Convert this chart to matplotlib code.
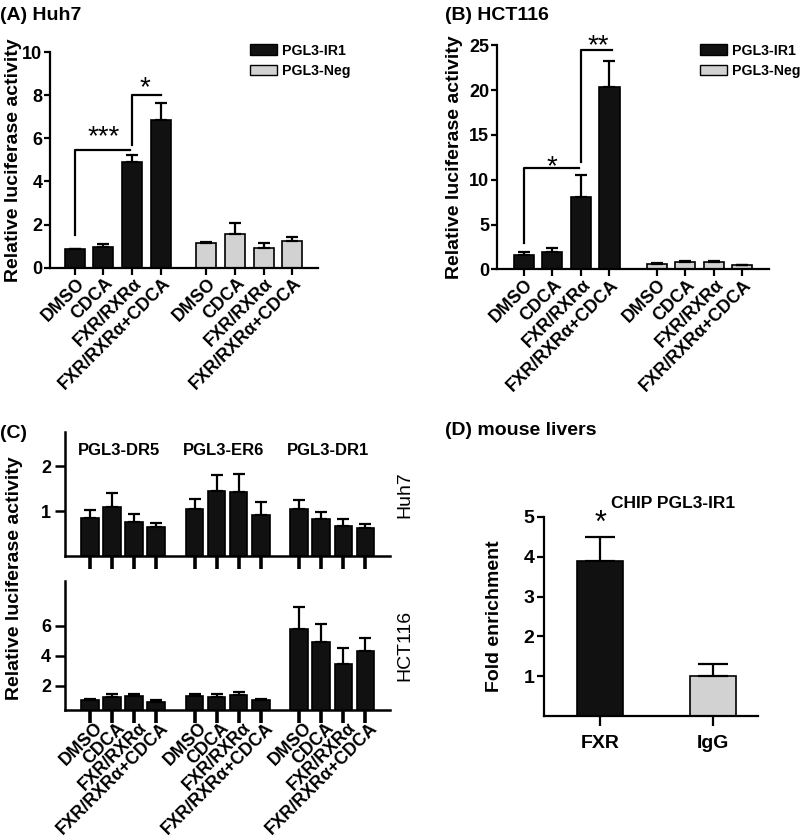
import matplotlib
matplotlib.use('Agg')
import matplotlib.pyplot as plt
import numpy as np
from matplotlib.patches import Patch
from matplotlib.transforms import ScaledTranslation

plt.rcParams['font.family'] = ['Liberation Sans', 'DejaVu Sans']
plt.rcParams['font.weight'] = 'bold'
plt.rcParams['axes.labelweight'] = 'bold'

treatments = ['DMSO', 'CDCA', 'FXR/RXRα', 'FXR/RXRα+CDCA']
series_names = ['PGL3-IR1', 'PGL3-Neg']

# (A) Huh7
huh7_ir1 = [0.85, 0.97, 4.9, 6.85]
huh7_ir1_err = [0.03, 0.13, 0.33, 0.8]
huh7_neg = [1.12, 1.58, 0.92, 1.22]
huh7_neg_err = [0.08, 0.5, 0.2, 0.2]

# (B) HCT116
hct_ir1 = [1.65, 1.9, 8.05, 20.3]
hct_ir1_err = [0.25, 0.5, 2.5, 2.9]
hct_neg = [0.6, 0.85, 0.8, 0.45]
hct_neg_err = [0.08, 0.1, 0.08, 0.05]

# (C) other response elements
c_groups = ['PGL3-DR5', 'PGL3-ER6', 'PGL3-DR1']
c_huh7 = [0.85, 1.1, 0.77, 0.65, 1.05, 1.45, 1.43, 0.91, 1.06, 0.83, 0.68, 0.63]
c_huh7_err = [0.18, 0.3, 0.17, 0.1, 0.23, 0.35, 0.4, 0.29, 0.18, 0.16, 0.14, 0.08]
c_hct = [1.05, 1.24, 1.29, 0.93, 1.29, 1.24, 1.4, 1.07, 5.8, 4.9, 3.45, 4.3]
c_hct_err = [0.05, 0.23, 0.18, 0.14, 0.18, 0.2, 0.15, 0.03, 1.4, 1.2, 1.05, 0.85]

# (D) mouse livers
d_labels = ['FXR', 'IgG']
d_vals = [3.9, 1.0]
d_err = [0.6, 0.3]

# significance brackets: (x_leg, y_leg_bottom, y_top, x_end), stars (x, y, text)
a_brackets = [(0, 1.5, 5.45, 1.93), (2, 5.7, 8.0, 3.0)]
a_stars = [(1.0, 5.45, '***'), (2.45, 7.7, '*')]
b_brackets = [(0, 2.9, 11.3, 1.95), (2, 12.0, 24.5, 3.1)]
b_stars = [(1.0, 9.9, '*'), (2.6, 23.4, '**')]

BLACK = '#111111'
GRAY = '#d2d2d2'


def style(ax, lw=1.6):
    for s in ['top', 'right']:
        ax.spines[s].set_visible(False)
    for s in ['left', 'bottom']:
        ax.spines[s].set_linewidth(lw)
    ax.tick_params(width=lw, length=5, labelsize=13)


def bars(ax, pos, vals, errs, color, width):
    ax.bar(pos, vals, width, color=color, edgecolor='black', linewidth=1.2, zorder=2)
    ax.errorbar(pos, vals, yerr=[np.zeros(len(vals)), errs], fmt='none',
                ecolor='black', elinewidth=1.6, capsize=4, capthick=1.6, zorder=3)


def slanted(ax, labels, dx):
    ax.set_xticklabels(labels, rotation=45, ha='right', va='center',
                       rotation_mode='anchor', fontsize=12.8)
    off = ScaledTranslation(dx / 100, 0, fig.dpi_scale_trans)
    for lab in ax.get_xticklabels():
        lab.set_transform(lab.get_transform() + off)


def brackets(ax, br, stars, size):
    for x0, y0, y1, x1 in br:
        ax.plot([x0, x0, x1], [y0, y1, y1], color='black', lw=1.6, clip_on=False)
    for x, y, t in stars:
        ax.text(x, y, t, ha='center', va='bottom', fontsize=size,
                fontweight='normal', clip_on=False)


fig = plt.figure(figsize=(8, 8.39), dpi=100)

# ---------- (A) and (B)
top_panels = [
    ([0.0625, 0.681, 0.335, 0.257], huh7_ir1, huh7_ir1_err, huh7_neg, huh7_neg_err,
     (0, 10), [0, 2, 4, 6, 8, 10], ['0', '2', '4', '6', '8', '10'],
     (-0.87, 8.5), 4.6, a_brackets, a_stars, '(A) Huh7', 0.0, 0.313, -0.104),
    ([0.621, 0.679, 0.34, 0.267], hct_ir1, hct_ir1_err, hct_neg, hct_neg_err,
     (0, 25), [0, 5, 10, 15, 20, 25], ['0', '5', '10', '15', '20', '25'],
     (-0.94, 8.57), 4.65, b_brackets, b_stars, '(B) HCT116', 0.556, 0.875, -0.125),
]
for (rect, ir1, ir1e, neg, nege, ylim, yt, ytl, xlim, gap,
     br, st, title, tx, lgx, ylx) in top_panels:
    ax = fig.add_axes(rect)
    p1 = np.arange(4)
    p2 = p1 + gap
    bars(ax, p1, ir1, ir1e, BLACK, 0.7)
    bars(ax, p2, neg, nege, GRAY, 0.7)
    style(ax)
    ax.set_ylim(*ylim)
    ax.set_xlim(*xlim)
    ax.set_yticks(yt)
    ax.set_yticklabels(ytl)
    ax.tick_params(axis='y', length=4, pad=1.5)
    ax.set_xticks(np.concatenate([p1, p2]))
    ax.tick_params(axis='x', pad=4.5)
    slanted(ax, treatments * 2, 7)
    ax.set_ylabel('Relative luciferase activity', fontsize=14)
    ax.yaxis.set_label_coords(ylx, 0.5)
    brackets(ax, br, st, 20)
    fig.text(tx, 0.992, title, fontsize=14, fontweight='bold', va='top', ha='left')
    handles = [Patch(facecolor=BLACK, edgecolor='black'),
               Patch(facecolor=GRAY, edgecolor='black')]
    fig.legend(handles, series_names, loc='upper left',
               bbox_to_anchor=(lgx, 0.948),
               frameon=False, fontsize=10.2, handlelength=1.9, handleheight=0.8,
               handletextpad=0.35, labelspacing=0.45, borderaxespad=0, borderpad=0)

# ---------- (C)
c_pos = np.concatenate([np.arange(4) + 4.75 * g for g in range(3)])
axc1 = fig.add_axes([0.081, 0.337, 0.406, 0.148])
axc2 = fig.add_axes([0.081, 0.154, 0.406, 0.153])
for ax, vals, errs, ylim, yt, side in [
        (axc1, c_huh7, c_huh7_err, (0, 2.76), [1, 2], 'Huh7'),
        (axc2, c_hct, c_hct_err, (0.4, 8.93), [2, 4, 6], 'HCT116')]:
    bars(ax, c_pos, vals, errs, BLACK, 0.8)
    style(ax, lw=1.8)
    ax.set_ylim(*ylim)
    ax.set_xlim(-1.14, 13.6)
    ax.set_yticks(yt)
    ax.tick_params(axis='y', length=7, pad=3)
    ax.set_xticks(c_pos)
    ax.tick_params(axis='x', length=9, width=2.6, pad=2)
    ax.text(1.02, 0.5, side, transform=ax.transAxes, rotation=90,
            ha='left', va='center', fontsize=14, fontweight='normal')
axc1.set_xticklabels([])
slanted(axc2, treatments * 3, 10)
for g, name in enumerate(c_groups):
    axc1.text(c_pos[4 * g] + 1.3, 2.35, name, ha='center', va='center', fontsize=12)
fig.text(0.018, 1 - 578 / 839, 'Relative luciferase activity', rotation=90,
         ha='center', va='center', fontsize=14, fontweight='bold')
fig.text(0.0, 1 - 425 / 839, '(C)', fontsize=14, fontweight='bold', va='top')

# ---------- (D)
axd = fig.add_axes([0.68, 0.1466, 0.2675, 0.2372])
d_pos = np.arange(2)
axd.bar(d_pos, d_vals, 0.41, color=[BLACK, GRAY], edgecolor='black',
        linewidth=1.2, zorder=2)
axd.errorbar(d_pos, d_vals, yerr=[np.zeros(2), d_err], fmt='none', ecolor='black',
             elinewidth=1.6, capsize=11, capthick=1.6, zorder=3)
style(axd)
axd.set_ylim(0, 5)
axd.set_xlim(-0.5, 1.4)
axd.set_yticks([1, 2, 3, 4, 5])
axd.set_xticks(d_pos)
axd.set_xticklabels(d_labels, fontsize=14)
axd.tick_params(axis='x', length=7, pad=7)
axd.tick_params(axis='y', labelsize=14, pad=2)
axd.set_ylabel('Fold enrichment', fontsize=14)
axd.yaxis.set_label_coords(-0.19, 0.5)
axd.text(0, 4.45, '*', ha='center', va='bottom', fontsize=22,
         fontweight='normal', clip_on=False)
axd.text(0.65, 5.35, 'CHIP PGL3-IR1', ha='center', va='center', fontsize=12.5)
fig.text(445 / 800, 1 - 430 / 839, '(D) mouse livers', fontsize=14,
         fontweight='bold', va='center', ha='left')

fig.savefig('out.png', dpi=100)
